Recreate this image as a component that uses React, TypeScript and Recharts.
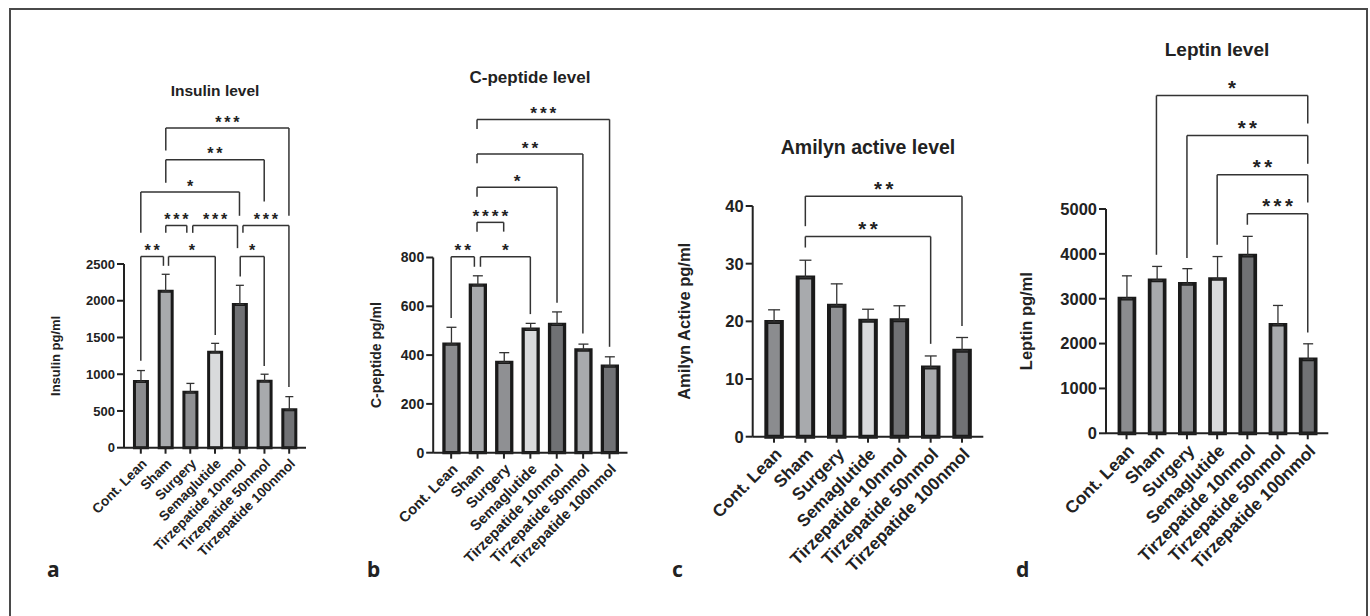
import React from "react";
import { Bar, BarChart, Cell, ErrorBar, ReferenceLine, XAxis, YAxis } from "recharts";

const GROUPS = [
  "Cont. Lean",
  "Sham",
  "Surgery",
  "Semaglutide",
  "Tirzepatide 10nmol",
  "Tirzepatide 50nmol",
  "Tirzepatide 100nmol",
];
const IDX = [0, 1, 2, 3, 4, 5, 6];

const INSULIN_MEAN = [900, 2130, 755, 1300, 1950, 905, 515];
const INSULIN_SEM = [150, 230, 120, 120, 260, 95, 180];
const INSULIN_TICKS = [0, 500, 1000, 1500, 2000, 2500];

const CPEP_MEAN = [445, 687, 370, 506, 526, 421, 355];
const CPEP_SEM = [69, 38, 40, 24, 51, 24, 38];
const CPEP_TICKS = [0, 200, 400, 600, 800];

const AMYLIN_MEAN = [19.9, 27.6, 22.7, 20.1, 20.2, 12.0, 14.9];
const AMYLIN_SEM = [2.1, 3.0, 3.8, 2.0, 2.5, 2.0, 2.3];
const AMYLIN_TICKS = [0, 10, 20, 30, 40];

const LEPTIN_MEAN = [3000, 3410, 3330, 3440, 3960, 2420, 1650];
const LEPTIN_SEM = [510, 310, 340, 500, 430, 430, 345];
const LEPTIN_TICKS = [0, 1000, 2000, 3000, 4000, 5000];

// significance brackets: [from, to, level, left leg end, right leg end, stars]
type Sig = [number, number, number, number, number, string];

const INSULIN_SIG: Sig[] = [
  [0, 0.915, 2602, 1185, 2475, "**"],
  [1.12, 3.01, 2602, 2475, 1535, "*"],
  [1.01, 1.86, 3024, 2924, 2924, "***"],
  [2.1, 3.91, 3024, 2924, 2716, "***"],
  [4.13, 5.99, 3024, 2924, 827, "***"],
  [4.02, 4.99, 2602, 2329, 1113, "*"],
  [0, 3.99, 3479, 2924, 3156, "*"],
  [1.01, 4.99, 3919, 3605, 3351, "**"],
  [1.01, 5.99, 4350, 4045, 3156, "***"],
];

const CPEP_SIG: Sig[] = [
  [0, 0.88, 803, 552, 762, "**"],
  [1.11, 3.0, 803, 762, 568, "*"],
  [0.98, 1.99, 944, 906, 906, "****"],
  [0.98, 4.01, 1088, 1049, 615, "*"],
  [0.98, 4.99, 1224, 1186, 489, "**"],
  [0.98, 6.0, 1366, 1327, 434, "***"],
];

const AMYLIN_SIG: Sig[] = [
  [1.0, 5.0, 34.7, 32.8, 16.1, "**"],
  [1.0, 6.0, 41.7, 36.5, 19.2, "**"],
];

const LEPTIN_SIG: Sig[] = [
  [0.99, 6.0, 7529, 3980, 6904, "*"],
  [2.0, 6.0, 6636, 3906, 6011, "**"],
  [3.0, 6.0, 5765, 4203, 5147, "**"],
  [4.0, 6.0, 4895, 4649, 2245, "***"],
];

const FILLS = ["#8b8c8f", "#a8aaad", "#8f9093", "#d9dadc", "#707174", "#a8aaad", "#717275"];
const INK = "#222";
const LINE = "#333";
const FONT = '"Liberation Sans", Arial, Helvetica, sans-serif';

type PanelProps = {
  mean: number[];
  sem: number[];
  ticks: number[];
  sig: Sig[];
  label: string;
  labelX: number;
  axisX: number;
  xEnd: number;
  yTop: number;
  y0: number;
  font: number;
  barSize: number;
  barStroke: number;
  cap: number;
};

function Panel(p: PanelProps) {
  const data = IDX.map((i) => ({ x: i, mean: p.mean[i], err: [0, p.sem[i]] }));
  const left = p.labelX - 12;
  const width = p.xEnd - left + 12;
  const starFont = p.font * 1.24;
  const spacing = starFont * 0.17;
  const lines: React.ReactNode[] = [];
  p.sig.forEach(([a, b, lvl, la, lb, stars], k) => {
    lines.push(
      <ReferenceLine
        key={`h${k}`}
        segment={[{ x: a, y: lvl }, { x: b, y: lvl }]}
        stroke={LINE}
        strokeWidth={1.5}
        ifOverflow="visible"
        label={{
          value: stars,
          position: "top",
          offset: 0.5,
          dx: spacing / 2,
          fill: INK,
          fontSize: starFont,
          fontWeight: 700,
          letterSpacing: spacing,
        }}
      />,
      <ReferenceLine
        key={`l${k}`}
        segment={[{ x: a, y: lvl }, { x: a, y: la }]}
        stroke={LINE}
        strokeWidth={1.5}
        ifOverflow="visible"
      />,
      <ReferenceLine
        key={`r${k}`}
        segment={[{ x: b, y: lvl }, { x: b, y: lb }]}
        stroke={LINE}
        strokeWidth={1.5}
        ifOverflow="visible"
      />
    );
  });
  return (
    <div style={{ position: "absolute", left, top: 0 }}>
      <BarChart
        width={width}
        height={616}
        data={data}
        margin={{ top: p.yTop, right: 12, bottom: 0, left: 0 }}
      >
        <XAxis
          type="number"
          dataKey="x"
          domain={[-0.68, 6.68]}
          ticks={IDX}
          interval={0}
          height={616 - p.y0}
          tickFormatter={(v: number) => GROUPS[v]}
          axisLine={{ stroke: INK, strokeWidth: 2 }}
          tickLine={{ stroke: INK, strokeWidth: 2 }}
          tickSize={6}
          tickMargin={4}
          tick={{ fill: INK, fontSize: p.font * 1.05, fontWeight: 700, angle: -45, textAnchor: "end" }}
        />
        <YAxis
          type="number"
          domain={[0, p.ticks[p.ticks.length - 1]]}
          ticks={p.ticks}
          interval={0}
          width={p.axisX - left}
          axisLine={{ stroke: INK, strokeWidth: 2 }}
          tickLine={{ stroke: INK, strokeWidth: 2 }}
          tickSize={7}
          tickMargin={2}
          tick={{ fill: INK, fontSize: p.font, fontWeight: 700 }}
          label={{
            value: p.label,
            angle: -90,
            position: "insideLeft",
            offset: 12,
            fill: INK,
            fontSize: p.font,
            fontWeight: 700,
            style: { textAnchor: "middle" },
          }}
        />
        <Bar
          dataKey="mean"
          barSize={p.barSize}
          stroke="#1a1a1a"
          strokeWidth={p.barStroke}
          isAnimationActive={false}
        >
          {data.map((d) => (
            <Cell key={d.x} fill={FILLS[d.x]} />
          ))}
          <ErrorBar dataKey="err" direction="y" width={p.cap} stroke={LINE} strokeWidth={1.3} />
        </Bar>
        {lines}
      </BarChart>
    </div>
  );
}

export default function App() {
  return (
    <div
      style={{
        position: "absolute",
        left: 0,
        top: 0,
        width: 1370,
        height: 616,
        background: "#fff",
        fontFamily: FONT,
        overflow: "hidden",
      }}
    >
      <Panel
        mean={INSULIN_MEAN}
        sem={INSULIN_SEM}
        ticks={INSULIN_TICKS}
        sig={INSULIN_SIG}
        label="Insulin pg/ml"
        labelX={55}
        axisX={124}
        xEnd={306}
        yTop={264}
        y0={447.7}
        font={13}
        barSize={13}
        barStroke={3}
        cap={4}
      />
      <Panel
        mean={CPEP_MEAN}
        sem={CPEP_SEM}
        ticks={CPEP_TICKS}
        sig={CPEP_SIG}
        label="C-peptide pg/ml"
        labelX={375.5}
        axisX={432.7}
        xEnd={627}
        yTop={257.5}
        y0={452.7}
        font={14}
        barSize={15}
        barStroke={3.3}
        cap={5}
      />
      <Panel
        mean={AMYLIN_MEAN}
        sem={AMYLIN_SEM}
        ticks={AMYLIN_TICKS}
        sig={AMYLIN_SIG}
        label="Amilyn Active pg/ml"
        labelX={684}
        axisX={752.7}
        xEnd={983.3}
        yTop={206}
        y0={436.7}
        font={16.5}
        barSize={15.5}
        barStroke={4}
        cap={6}
      />
      <Panel
        mean={LEPTIN_MEAN}
        sem={LEPTIN_SEM}
        ticks={LEPTIN_TICKS}
        sig={LEPTIN_SIG}
        label="Leptin pg/ml"
        labelX={1026}
        axisX={1106}
        xEnd={1328.3}
        yTop={209}
        y0={433.3}
        font={16.5}
        barSize={15}
        barStroke={3.7}
        cap={5}
      />
      <svg
        width={1370}
        height={616}
        style={{ position: "absolute", left: 0, top: 0, pointerEvents: "none" }}
      >
        <path d="M10 616 V9 H1367 V616" fill="none" stroke="#4a4a4a" strokeWidth={2} />
        <g fill={INK} fontWeight={700} textAnchor="middle" fontFamily={FONT}>
          <text x={215} y={96} fontSize={15.5}>Insulin level</text>
          <text x={530} y={83.3} fontSize={17}>C-peptide level</text>
          <text x={868} y={153.5} fontSize={19.5}>Amilyn active level</text>
          <text x={1217} y={56} fontSize={19}>Leptin level</text>
        </g>
        <g fill="#222" fontWeight={700} fontFamily='"Noto Sans", "Open Sans", sans-serif' fontSize={21}>
          <text x={47} y={577}>a</text>
          <text x={367} y={577}>b</text>
          <text x={672} y={577}>c</text>
          <text x={1016} y={577}>d</text>
        </g>
      </svg>
    </div>
  );
}
